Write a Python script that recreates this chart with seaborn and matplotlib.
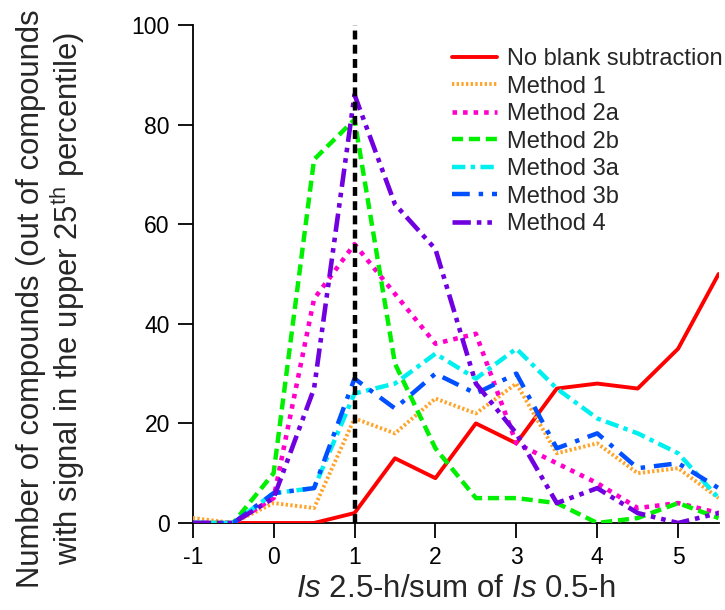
import matplotlib
matplotlib.use("Agg")
import matplotlib.pyplot as plt
import seaborn as sns
import pandas as pd

# ---- data ----
x_vals = [-1, -0.5, 0, 0.5, 1, 1.5, 2, 2.5, 3, 3.5, 4, 4.5, 5, 5.5]
no_blank = [0, 0, 0, 0, 2, 13, 9, 20, 16, 27, 28, 27, 35, 50]
method_1 = [1, 0, 4, 3, 21, 18, 25, 22, 28, 14, 16, 10, 11, 5]
method_2a = [0, 0, 5, 45, 56, 46, 36, 38, 16, 12, 8, 3, 4, 2]
method_2b = [0, 0, 10, 73, 81, 32, 15, 5, 5, 4, 0, 1, 4, 1]
method_3a = [0, 0, 6, 7, 26, 28, 34, 29, 35, 27, 21, 18, 14, 5]
method_3b = [0, 0, 6, 7, 29, 23, 30, 26, 30, 15, 18, 11, 12, 7]
method_4 = [0, 0, 5, 27, 86, 64, 55, 28, 18, 4, 7, 2, 0, 2]
series_names = ["No blank subtraction", "Method 1", "Method 2a", "Method 2b",
                "Method 3a", "Method 3b", "Method 4"]
x_ticks = [-1, 0, 1, 2, 3, 4, 5]
y_ticks = [0, 20, 40, 60, 80, 100]
ref_x = 1

sns.set_style("ticks")
plt.rcParams["font.family"] = ["Liberation Sans", "DejaVu Sans"]
plt.rcParams["axes.unicode_minus"] = False
plt.rcParams["mathtext.fontset"] = "custom"
plt.rcParams["mathtext.rm"] = "Liberation Sans"
plt.rcParams["mathtext.it"] = "Liberation Sans:italic"

fig = plt.figure(figsize=(7.25, 6.1), dpi=100)
W, H = 725, 610
x0, x1, y0, y1 = 192.7, 718.6, 25, 523
ax = fig.add_axes([x0 / W, 1 - y1 / H, (x1 - x0) / W, (y1 - y0) / H])

all_series = [no_blank, method_1, method_2a, method_2b, method_3a, method_3b, method_4]
styles = [
    dict(color="#FF0000", lw=2.8, ls="-"),
    dict(color="#FFA42A", lw=2.8, ls=(0, (0.6, 0.6))),
    dict(color="#FF00CC", lw=3.3, ls=(0, (1, 1.3))),
    dict(color="#00F000", lw=3.2, ls=(0, (2.5, 1.3))),
    dict(color="#00F0F0", lw=3.2, ls=(0, (3, 1.2, 1, 1.2))),
    dict(color="#0050FF", lw=3.2, ls=(0, (4, 2, 1, 2))),
    dict(color="#7000E0", lw=3.3, ls=(0, (4, 1.3, 1, 1.3, 1, 1.3))),
]

for name, vals, st in zip(series_names, all_series, styles):
    df = pd.DataFrame({"x": x_vals, "y": vals})
    sns.lineplot(data=df, x="x", y="y", ax=ax, color=st["color"], lw=st["lw"],
                 linestyle=st["ls"], label=name, zorder=3)

ax.axvline(ref_x, color="black", lw=3.2, ls=(0, (2, 1.2)), zorder=4)

ax.set_xlim(-1, 5.5)
ax.set_ylim(0, 100)
ax.set_xticks(x_ticks)
ax.set_xticklabels([str(t) for t in x_ticks])
ax.set_yticks(y_ticks)
ax.set_yticklabels([str(t) for t in y_ticks])
sns.despine(ax=ax)
for sp in ("left", "bottom"):
    ax.spines[sp].set_linewidth(1.3)
    ax.spines[sp].set_color("black")
ax.tick_params(axis="both", direction="out", length=10.5, width=1.3, color="black",
               labelsize=16.5, labelcolor="black")
ax.tick_params(axis="y", pad=6)
ax.tick_params(axis="x", pad=6)

ax.set_xlabel(r"$\mathit{Is}$ 2.5-h/sum of $\mathit{Is}$ 0.5-h", fontsize=22.5, labelpad=4)
ax.set_ylabel("Number of compounds (out of compounds\n"
              r"with signal in the upper 25$^{\mathrm{th}}$ percentile)",
              fontsize=22.3, linespacing=1.05)
ax.yaxis.set_label_coords((87 - x0) / (x1 - x0), (y1 - 299) / (y1 - y0))

leg = ax.legend(loc="upper left", bbox_to_anchor=(452 / W, 1 - 48 / H),
                bbox_transform=fig.transFigure, frameon=False, fontsize=17,
                handlelength=1.9, handletextpad=0.42, labelspacing=0.235,
                borderpad=0, borderaxespad=0)

fig.savefig("out.png", dpi=100)
